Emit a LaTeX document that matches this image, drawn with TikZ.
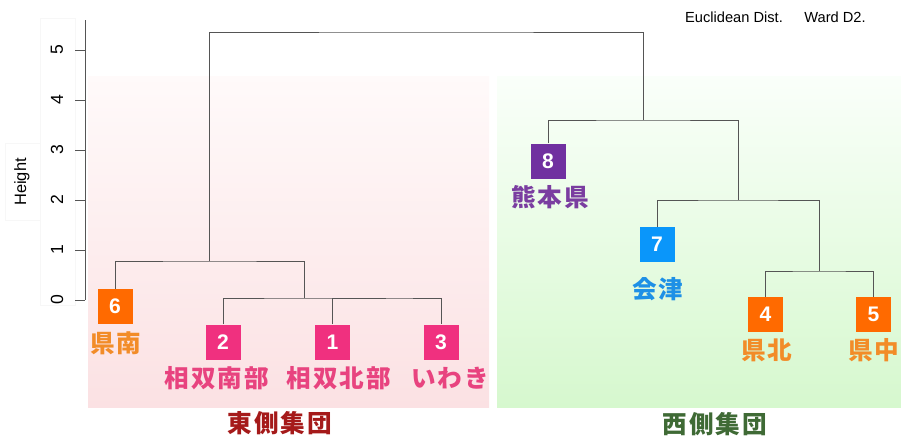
\documentclass[tikz,border=0pt]{standalone}
\usepackage{fontspec}
\setmainfont{Liberation Sans}
\newfontfamily\jp{Noto Sans CJK JP}[LetterSpace=8]
\definecolor{dend}{HTML}{555555}
\definecolor{orgbox}{HTML}{FF6A00}
\definecolor{orglab}{HTML}{F28C28}
\definecolor{pinkbox}{HTML}{F0307F}
\definecolor{pinklab}{HTML}{E8437F}
\definecolor{purbox}{HTML}{7030A0}
\definecolor{purlab}{HTML}{7A3DA0}
\definecolor{bluebox}{HTML}{0A96FA}
\definecolor{bluelab}{HTML}{1E90E6}
\definecolor{eastc}{HTML}{A51A1A}
\definecolor{westc}{HTML}{3F6A35}
\tikzset{
  leafbox/.style={minimum width=1.05cm,minimum height=1.05cm,inner sep=0pt,text=white,font=\fontsize{18}{18}\selectfont\bfseries},
  lab/.style={inner sep=0pt,font=\jp\bfseries\fontsize{21}{21}\selectfont},
  grp/.style={inner sep=0pt,font=\jp\bfseries\fontsize{21}{21}\selectfont},
  dline/.style={draw=dend,line width=0.7pt},
  tick/.style={inner sep=0pt,rotate=90,font=\fontsize{15}{15}\selectfont},
}
\begin{document}
\begin{tikzpicture}[x=0.03cm,y=-0.03cm]
\useasboundingbox (0,0) rectangle (901,437);
% background regions
\shade[top color=red!2!white,bottom color={rgb,255:red,251;green,225;blue,227}] (88,76) rectangle (489,407);
\shade[top color=green!2!white,bottom color={rgb,255:red,214;green,248;blue,206}] (497,76) rectangle (901,407);
% faint label boxes
\draw[draw=black!3,fill=white] (40,18) rectangle (75,305);
\draw[draw=black!3,fill=white] (5,143) rectangle (40,220);
% axis
\draw[draw=dend,line width=0.6pt] (85,20) -- (85,300);
\foreach \v in {0,...,5}{
  \draw[draw=dend,line width=0.6pt] (75,{300-50*\v}) -- (85,{300-50*\v});
  \node[tick] at (57,{300-50*\v}) {\v};
}
\node[tick,font=\fontsize{14}{14}\selectfont] (hgt) at (22,182) {Height};
\node[inner sep=0pt,font=\fontsize{12.5}{13}\selectfont] (euc) at (734,17) {Euclidean Dist.};
\node[inner sep=0pt,font=\fontsize{12.5}{13}\selectfont] (ward) at (835,17) {Ward D2.};
% leaves
\node[leafbox,fill=orgbox] (b6) at (115,306.5) {6};
\node[leafbox,fill=pinkbox] (b2) at (223,342) {2};
\node[leafbox,fill=pinkbox] (b1) at (332.5,342) {1};
\node[leafbox,fill=pinkbox] (b3) at (441,342) {3};
\node[leafbox,fill=purbox] (b8) at (548,161) {8};
\node[leafbox,fill=bluebox] (b7) at (657,244.5) {7};
\node[leafbox,fill=orgbox] (b4) at (765.5,314.5) {4};
\node[leafbox,fill=orgbox] (b5) at (873.5,314.5) {5};
% labels
\node[lab,text=orglab] (l6) at (116,343) {県南};
\node[lab,text=pinklab] (l2) at (217,378) {相双南部};
\node[lab,text=pinklab] (l1) at (339,378) {相双北部};
\node[lab,text=pinklab] (l3) at (450,378) {いわき};
\node[lab,text=purlab] (l8) at (550,197) {熊本県};
\node[lab,text=bluelab] (l7) at (658,289) {会津};
\node[lab,text=orglab] (l4) at (767,350) {県北};
\node[lab,text=orglab] (l5) at (874,350) {県中};
\node[grp,text=eastc] (east) at (280,423) {東側集団};
\node[grp,text=westc] (west) at (715,424) {西側集団};
% merge points
\coordinate (m13) at (385.5,298);
\coordinate (m213) at (304,298);
\coordinate (m6) at (209.5,261);
\coordinate (m45) at (819,271);
\coordinate (m7) at (738,200);
\coordinate (m8) at (643,120);
\coordinate (root) at (426,32);
% dendrogram
\draw[dline] (b1.north) |- (m13) -| (b3.north);
\draw[dline] (b2.north) |- (m213) -| (m13);
\draw[dline] (b6.north) |- (m6) -| (m213);
\draw[dline] (b4.north) |- (m45) -| (b5.north);
\draw[dline] (b7.north) |- (m7) -| (m45);
\draw[dline] (b8.north) |- (m8) -| (m7);
\draw[dline] (m6) |- (root) -| (m8);
\end{tikzpicture}
\end{document}
